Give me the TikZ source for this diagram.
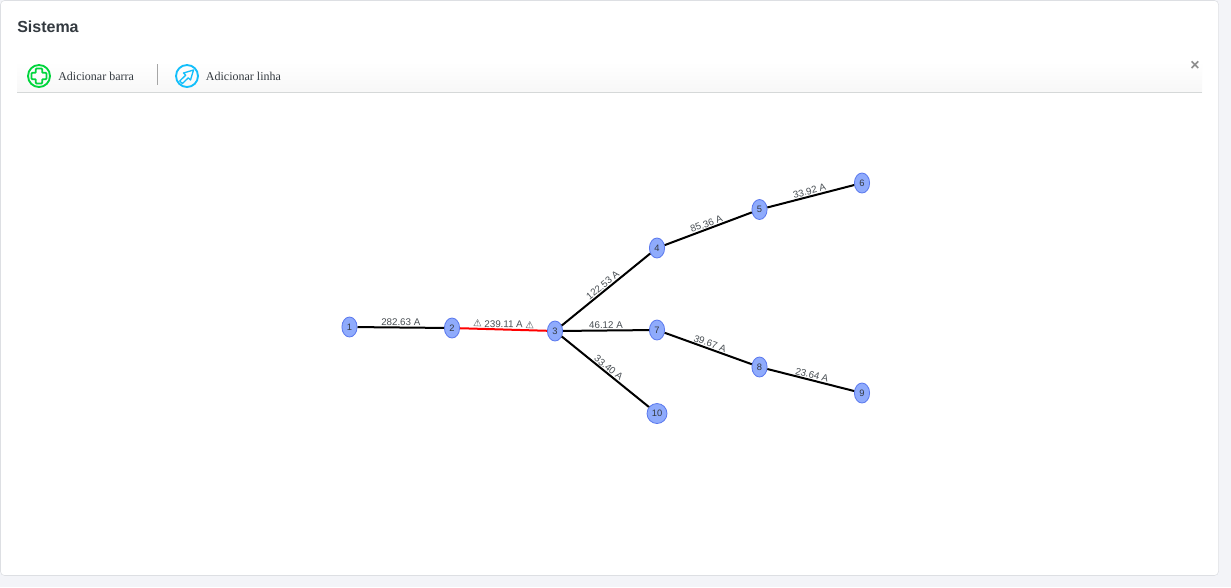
\documentclass[tikz,border=0pt]{standalone}
\usepackage{fontspec}
\setmainfont{Liberation Serif}
\setsansfont{Liberation Sans}
\newfontfamily\warnfont{DejaVu Sans}
\usepackage{tikz}
\usetikzlibrary{shapes, arrows}
\definecolor{pagebg}{HTML}{F3F4F8}
\definecolor{cardrim}{HTML}{DDDFE3}
\definecolor{barrim}{HTML}{D5D8D8}
\definecolor{busfill}{HTML}{8FABFC}
\definecolor{busrim}{HTML}{5A78EE}
\definecolor{inktext}{HTML}{343A40}
\definecolor{addgreen}{HTML}{00D53C}
\definecolor{addblue}{HTML}{13BFFB}
\tikzstyle{bus} = [ellipse, minimum width=11.4, minimum height=15, inner sep=0, text centered, draw=busrim, fill=busfill, text=inktext, font=\sffamily\fontsize{7}{8}\selectfont, line width=0.6pt]
\tikzstyle{bigbus} = [bus, minimum width=15]
\tikzstyle{edge} = [line width=1.5pt, black]
\tikzstyle{overload} = [line width=1.5pt, red]
\tikzstyle{amps} = [midway, sloped, above, inner sep=0.6pt, text=inktext!90, font=\sffamily\fontsize{7.3}{8}\selectfont]
\tikzstyle{toolitem} = [inner sep=0, anchor=west, text=inktext, font=\fontsize{9}{10}\selectfont]
\begin{document}
\begin{tikzpicture}[x=0.75pt, y=-0.75pt]

\useasboundingbox (0,0) rectangle (1231,587);
\fill [pagebg] (0,0) rectangle (1231,587);
\draw [cardrim, fill=white, rounded corners=3] (0.5,0.5) rectangle (1218.5,575.5);

\node (title) [inner sep=0, anchor=west, text=inktext, font=\sffamily\bfseries\fontsize{12}{14}\selectfont] at (17,26.5) {Sistema};

% toolbar
\shade [top color=white, bottom color=black!3] (17,62) rectangle (1202,92);
\draw [barrim, line width=0.75pt] (17,92.5) -- (1202,92.5);
\draw [black!35, line width=0.75pt] (157.5,64) -- (157.5,85);
\node (close) [inner sep=0, text=black!45, font=\sffamily\bfseries\fontsize{12}{12}\selectfont] at (1195,66) {×};

\node (addbus) [circle, draw=addgreen, line width=1.4pt, minimum size=16.5, inner sep=0] at (39,76) {};
\draw [addgreen, line width=1.3pt, rounded corners=0.6] (35.8,68.5) -- (42.2,68.5) -- (42.2,72.8) -- (46.5,72.8) -- (46.5,79.2) -- (42.2,79.2) -- (42.2,83.5) -- (35.8,83.5) -- (35.8,79.2) -- (31.5,79.2) -- (31.5,72.8) -- (35.8,72.8) -- cycle;
\node (addbustext) [toolitem] at (58,76) {Adicionar barra};

\node (addline) [circle, draw=addblue, line width=1.4pt, minimum size=16.5, inner sep=0] at (187,76) {};
\draw [addblue, line width=1pt, line join=round] (182.3,83.6) -- (179.7,81) -- (185.7,75.2) -- (183.5,73) -- (193.5,70) -- (190.5,80) -- (188.3,77.8) -- cycle;
\node (addlinetext) [toolitem] at (205.7,76) {Adicionar linha};

% buses
\node (1) [bus] at (349.5,327) {1};
\node (2) [bus] at (452,328) {2};
\node (3) [bus] at (555,331) {3};
\node (4) [bus] at (657,248) {4};
\node (5) [bus] at (759.5,209.5) {5};
\node (6) [bus] at (862,183) {6};
\node (7) [bus] at (657,330) {7};
\node (8) [bus] at (759.5,367) {8};
\node (9) [bus] at (862,393) {9};
\node (10) [bigbus] at (657,413.5) {10};

% lines
\draw [edge] (1) -- node[amps]{282.63 A} (2);
\draw [overload] (2) -- node[amps]{{\warnfont\fontsize{7.3}{8}\selectfont ⚠} 239.11 A {\warnfont\fontsize{7.3}{8}\selectfont ⚠}} (3);
\draw [edge] (3) -- node[amps]{122.53 A} (4);
\draw [edge] (4) -- node[amps]{85.36 A} (5);
\draw [edge] (5) -- node[amps]{33.92 A} (6);
\draw [edge] (3) -- node[amps]{46.12 A} (7);
\draw [edge] (7) -- node[amps]{39.67 A} (8);
\draw [edge] (8) -- node[amps]{23.64 A} (9);
\draw [edge] (3) -- node[amps]{33.40 A} (10);

\end{tikzpicture}
\end{document}
